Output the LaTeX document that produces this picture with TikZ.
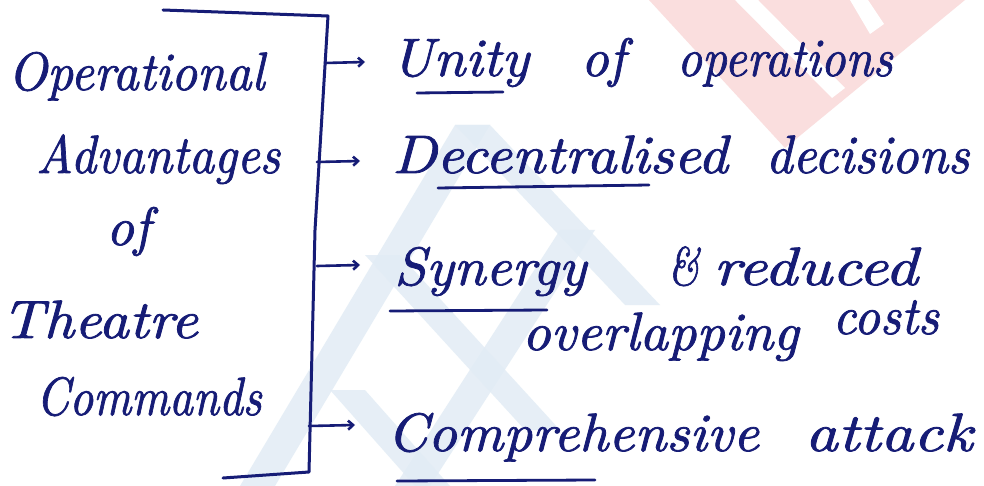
\documentclass[tikz,border=0pt]{standalone}
\usepackage{graphicx}
\usepackage{fontspec}
\usetikzlibrary{arrows.meta}
\newfontfamily\handfont[FakeBold=1.4]{lmroman10-italic.otf}
\definecolor{ink}{RGB}{22,28,118}
\definecolor{wmred}{RGB}{250,222,222}
\definecolor{wmblue}{RGB}{226,236,245}
\newcommand\sx[2]{\scalebox{#1}[1]{#2}}
\tikzset{
  hand/.style={text=ink, inner sep=0pt, anchor=base west,
    font=\fontsize{54}{58}\selectfont\handfont},
  pen/.style={draw=ink, line width=3pt, line cap=round, line join=round},
  branch/.style={pen, line width=2.6pt, -{Straight Barb[length=5pt,width=9pt]}},
  uline/.style={pen, line width=2.8pt}
}
\begin{document}
\begin{tikzpicture}[x=1pt,y=-1pt]
\useasboundingbox (0,0) rectangle (984,486);
\fill[white] (0,0) rectangle (984,486);

% faint logo in the background
\begin{scope}
  \fill[wmred] (649,0) -- (965,0) -- (785,148) -- cycle;
  \fill[white] (735,0) -- (758,0) -- (845,88) -- (832,98) -- cycle;
  \fill[white] (850,0) -- (868,0) -- (884,24) -- (870,34) -- cycle;
  \begin{scope}[fill=wmblue, fill opacity=0.85]
    \fill (455,125) -- (490,125) -- (275,486) -- (240,486) -- cycle;
    \fill (455,125) -- (490,125) -- (660,305) -- (625,305) -- cycle;
    \fill (560,230) -- (595,230) -- (430,486) -- (395,486) -- cycle;
    \fill (365,255) -- (400,255) -- (560,430) -- (525,430) -- cycle;
    \fill (330,390) -- (365,390) -- (450,486) -- (415,486) -- cycle;
  \end{scope}
\end{scope}

% heading on the left
\node[hand] (t1) at (8,90)   {\sx{0.94}{Operational}};
\node[hand] (t2) at (36,173) {\sx{0.92}{Advantages}};
\node[hand] (t3) at (106,245) {of};
\node[hand] (t4) at (1,338)  {\sx{1.10}{Theatre}};
\node[hand] (t5) at (36,415) {\sx{0.86}{Commands}};

% bracket
\coordinate (bt0) at (163,10);
\coordinate (bt1) at (328,16);
\coordinate (bm)  at (315,230);
\coordinate (bb1) at (309,472);
\coordinate (bb0) at (223,478);
\draw[pen] (bt0) -- (bt1) -- (bm) -- (bb1) -- (bb0);

% the four points
\node[hand] (p1) at (391,76)
  {\sx{1.05}{Unity}\hspace{52pt}of\hspace{52pt}\sx{0.9}{operations}};
\node[hand] (p2) at (392,173)
  {\sx{1.09}{Decentralised}\hspace{38pt}\sx{0.97}{decisions}};
\node[hand] (p3) at (394,285)
  {\sx{1.05}{Synergy}\hspace{82pt}\sx{0.75}{\&}\hspace{14pt}\sx{1.2}{reduced}};
\node[hand] (p3b) at (522,350)
  {\sx{1.03}{overlapping}\hspace{34pt}\raisebox{16pt}{\sx{0.95}{costs}}};
\node[hand] (p4) at (387,451)
  {\sx{1.05}{Comprehensive}\hspace{46pt}\sx{1.19}{attack}};

\coordinate (s1) at (325,63);
\coordinate (s2) at (317,162);
\coordinate (s3) at (317,266);
\coordinate (s4) at (309,426);
\draw[branch] (s1) -- (365,62);
\draw[branch] (s2) -- (360,161);
\draw[branch] (s3) -- (360,265);
\draw[branch] (s4) -- (355,425);

% underlines
\draw[uline] (417,93) -- (503,92);
\draw[uline] (438,188) -- (649,185);
\draw[uline] (390,311) -- (547,310);
\draw[uline] (397,481) -- (595,480);
\end{tikzpicture}
\end{document}
